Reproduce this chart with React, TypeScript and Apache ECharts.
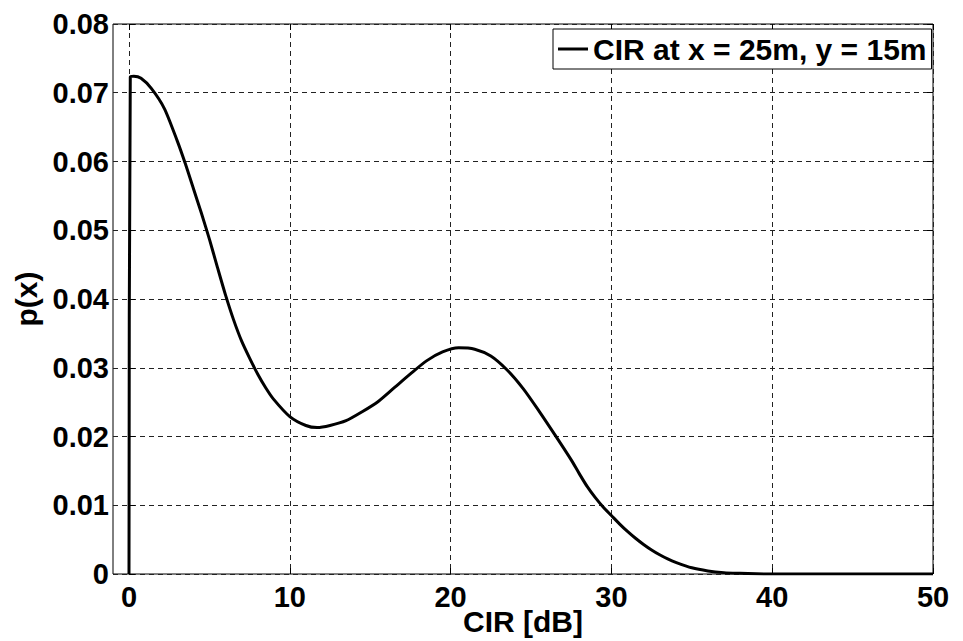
import React, { useEffect, useRef } from "react";
import * as echarts from "echarts";

const seriesName = "CIR at x = 25m, y = 15m";
const cirDb = [0, 0.08, 0.3, 0.75, 1.4, 2.2, 3.0, 3.5, 4.0, 4.5, 5.0, 5.5, 6.0, 6.5, 7.0, 7.5, 8.0, 8.5, 9.0, 10.0, 11.0, 11.7, 12.5, 13.5, 14.5, 15.5, 16.5, 17.5, 18.5, 19.5, 20.5, 21.5, 22.5, 23.5, 24.5, 25.5, 26.5, 27.5, 28.0, 28.5, 29.0, 29.5, 30.0, 30.5, 31.0, 31.5, 32.0, 32.5, 33.0, 33.5, 34.0, 35.0, 36.0, 37.0, 38.0, 39.0, 40.0, 45.0, 50.0];
const pdfValues = [0, 0.0723, 0.0724, 0.0721, 0.0706, 0.0677, 0.0630, 0.0597, 0.0561, 0.0525, 0.0487, 0.0446, 0.0406, 0.0370, 0.0339, 0.0314, 0.0291, 0.0271, 0.0254, 0.0229, 0.0216, 0.0213, 0.0216, 0.0223, 0.0236, 0.0251, 0.0271, 0.0291, 0.0310, 0.0323, 0.0329, 0.0327, 0.0317, 0.0297, 0.0270, 0.0237, 0.0202, 0.0166, 0.0146, 0.0127, 0.0111, 0.0097, 0.0085, 0.0073, 0.0062, 0.0052, 0.0043, 0.0035, 0.0028, 0.0022, 0.0017, 0.0009, 0.00045, 0.0002, 0.0001, 0.00003, 0, 0, 0];
const xTicks = { min: 0, max: 50, interval: 10 };
const yTicks = { min: 0, max: 0.08, interval: 0.01 };

const FONT = "'Liberation Sans', Arial, Helvetica, sans-serif";
const dash = [5, 4];

export default function App() {
  const ref = useRef<HTMLDivElement>(null);
  useEffect(() => {
    document.body.style.margin = "0";
    const chart = echarts.init(ref.current!, null, { renderer: "svg" });
    const labelStyle = { fontFamily: FONT, fontWeight: "bold" as const, fontSize: 29, color: "#000" };
    chart.setOption({
      animation: false,
      backgroundColor: "#fff",
      grid: [
        { left: 113, right: 30, top: 24, bottom: 67, show: true, borderColor: "#000", borderWidth: 1, backgroundColor: "transparent" },
        { left: 129, right: 30, top: 24, bottom: 67, show: false },
      ],
      legend: {
        left: 553,
        top: 29,
        data: [{ name: seriesName, icon: "rect" }],
        itemWidth: 30,
        itemHeight: 3,
        itemGap: 5,
        padding: [5, 5, 5, 5],
        borderColor: "#000",
        borderWidth: 1,
        backgroundColor: "#fff",
        itemStyle: { color: "#000" },
        textStyle: { ...labelStyle, fontSize: 30, lineHeight: 30 },
      },
      xAxis: [
        {
          gridIndex: 1, type: "value", position: "bottom",
          min: xTicks.min, max: xTicks.max, interval: xTicks.interval,
          axisLine: { show: false },
          axisTick: { show: true, inside: true, length: 6, lineStyle: { color: "#000" } },
          axisLabel: { ...labelStyle, margin: 8 },
          splitLine: { show: true, lineStyle: { color: "#222", type: dash, width: 1 } },
        },
        {
          gridIndex: 1, type: "value", position: "top",
          min: xTicks.min, max: xTicks.max, interval: xTicks.interval,
          axisLine: { show: false },
          axisTick: { show: true, inside: true, length: 6, lineStyle: { color: "#000" } },
          axisLabel: { show: false },
          splitLine: { show: false },
        },
        {
          gridIndex: 0, type: "value", position: "bottom",
          min: -1, max: 50,
          axisLine: { show: false }, axisTick: { show: false }, axisLabel: { show: false }, splitLine: { show: false },
          name: "CIR [dB]", nameLocation: "middle", nameGap: 32,
          nameTextStyle: { ...labelStyle, fontSize: 30 },
        },
      ],
      yAxis: [
        {
          gridIndex: 0, type: "value", position: "left",
          min: yTicks.min, max: yTicks.max, interval: yTicks.interval,
          axisLine: { show: false },
          axisTick: { show: true, inside: true, length: 6, lineStyle: { color: "#000" } },
          axisLabel: { ...labelStyle, margin: 4, formatter: (v: number) => (v === 0 ? "0" : v.toFixed(2)) },
          splitLine: { show: true, lineStyle: { color: "#222", type: dash, width: 1 } },
          name: "p(x)", nameLocation: "middle", nameGap: 64, nameRotate: 90,
          nameTextStyle: { ...labelStyle, fontSize: 30 },
        },
        {
          gridIndex: 0, type: "value", position: "right",
          min: yTicks.min, max: yTicks.max, interval: yTicks.interval,
          axisLine: { show: false },
          axisTick: { show: true, inside: true, length: 6, lineStyle: { color: "#000" } },
          axisLabel: { show: false }, splitLine: { show: false },
        },
        {
          gridIndex: 1, type: "value", min: yTicks.min, max: yTicks.max, show: false,
        },
      ],
      series: [
        {
          name: seriesName,
          type: "line",
          xAxisIndex: 0,
          yAxisIndex: 2,
          data: cirDb.map((x, i) => [x, pdfValues[i]]),
          symbol: "none",
          smooth: 0.25,
          lineStyle: { color: "#000", width: 3, join: "round" },
          itemStyle: { color: "#000" },
        },
      ],
    });
    return () => chart.dispose();
  }, []);
  return <div ref={ref} style={{ position: "fixed", left: 0, top: 0, width: 963, height: 641 }} />;
}
